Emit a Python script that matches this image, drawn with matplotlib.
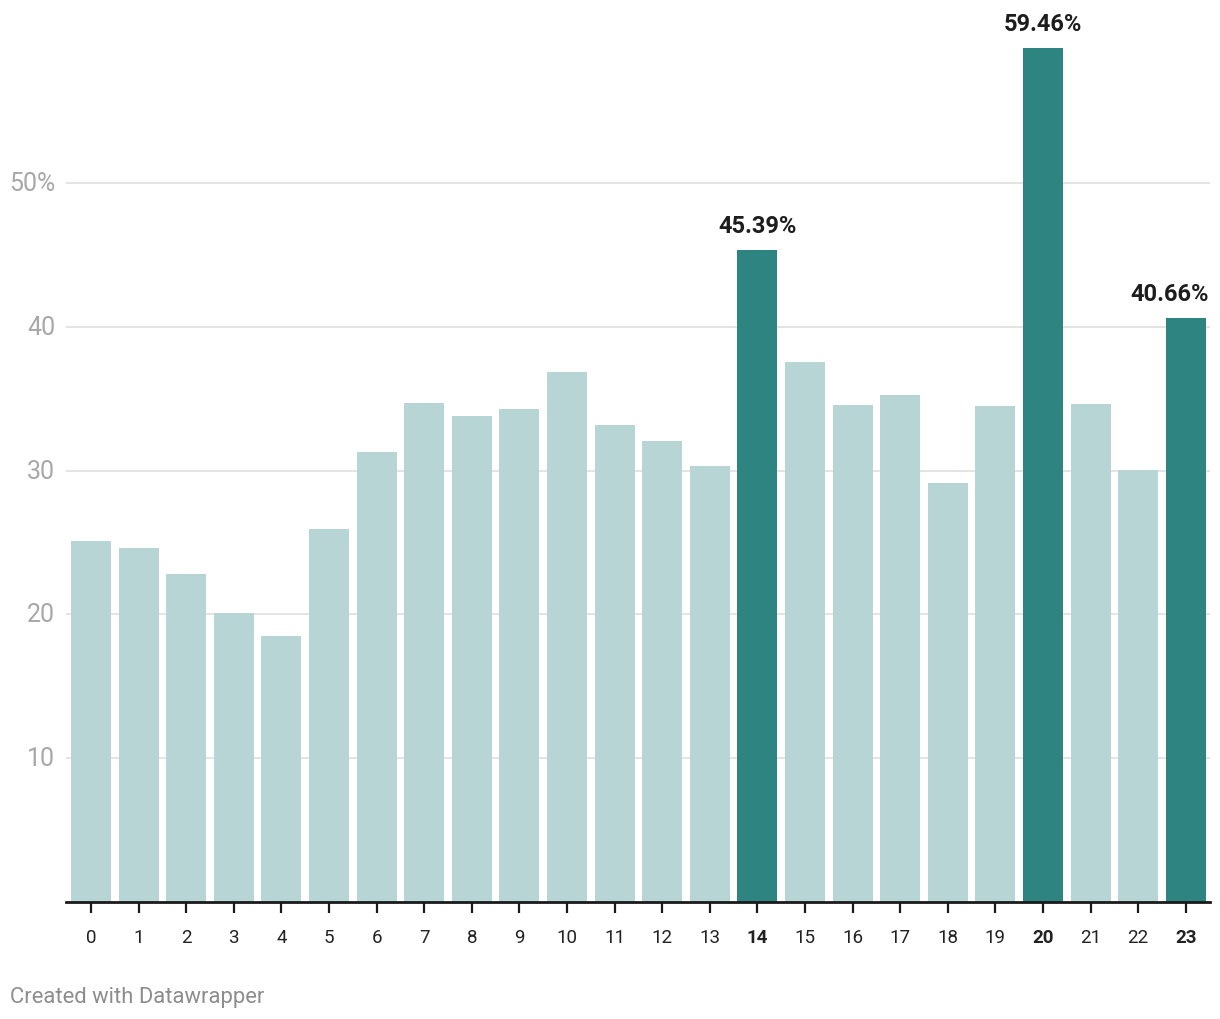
import matplotlib.pyplot as plt
from matplotlib.transforms import blended_transform_factory

plt.rcParams['font.family'] = ['Roboto', 'DejaVu Sans']

hours = list(range(24))
shares = [25.07, 24.58, 22.77, 20.06, 18.52, 25.97, 31.27, 34.68, 33.77, 34.26,
          36.84, 33.15, 32.03, 30.29, 45.39, 37.53, 34.54, 35.24, 29.11, 34.47,
          59.46, 34.61, 30.01, 40.66]
highlight = [14, 20, 23]
yticks = [10, 20, 30, 40, 50]
ytick_labels = ["10", "20", "30", "40", "50%"]

light = "#b7d5d5"
dark = "#2e8480"

W, H = 1220, 1020
fig = plt.figure(figsize=(W / 100, H / 100), dpi=100)
ax = fig.add_axes([66 / W, (H - 902.5) / H, (1210 - 66) / W, (902.5 - 48.5) / H])

colors = [dark if h in highlight else light for h in hours]
ax.bar(hours, shares, width=0.84, color=colors, zorder=2)

ax.set_xlim(-0.525, 23.51)
ax.set_ylim(0, 59.46)

# gridlines
for t in yticks:
    ax.axhline(t, color="#e2e2e2", lw=1.3, zorder=1)

# y labels on the left, outside the axes
trans = blended_transform_factory(fig.transFigure, ax.transData)
for t, lab in zip(yticks, ytick_labels):
    ax.text(55 / W, t, lab, transform=trans, ha="right", va="center",
            fontsize=18, color="#a8a8a8")

ax.set_yticks([])
for s in ["top", "right", "left"]:
    ax.spines[s].set_visible(False)
ax.spines["bottom"].set_linewidth(2)
ax.spines["bottom"].set_color("#1a1a1a")
ax.spines["bottom"].set_zorder(3)

ax.set_xticks(hours)
ax.set_xticklabels([str(h) for h in hours])
ax.tick_params(axis="x", length=8, width=1.6, color="#1a1a1a", pad=11,
               labelsize=13.5, labelcolor="#222222")
for lbl, h in zip(ax.get_xticklabels(), hours):
    if h in highlight:
        lbl.set_fontweight("bold")

# value labels on highlighted bars (last one pulled in from the edge)
for h in highlight:
    dx = -11.5 if h == 23 else 0
    ax.annotate(f"{shares[h]:.2f}%", (h, shares[h]), xytext=(dx, 9),
                textcoords="offset points", ha="center", va="bottom",
                fontsize=17, fontweight="bold", color="#1d1d1d",
                annotation_clip=False)

fig.text(10 / W, 1 - 998 / H, "Created with Datawrapper", ha="left",
         va="center", fontsize=15.8, color="#8d8d8d")

fig.savefig("out.png", dpi=100)
